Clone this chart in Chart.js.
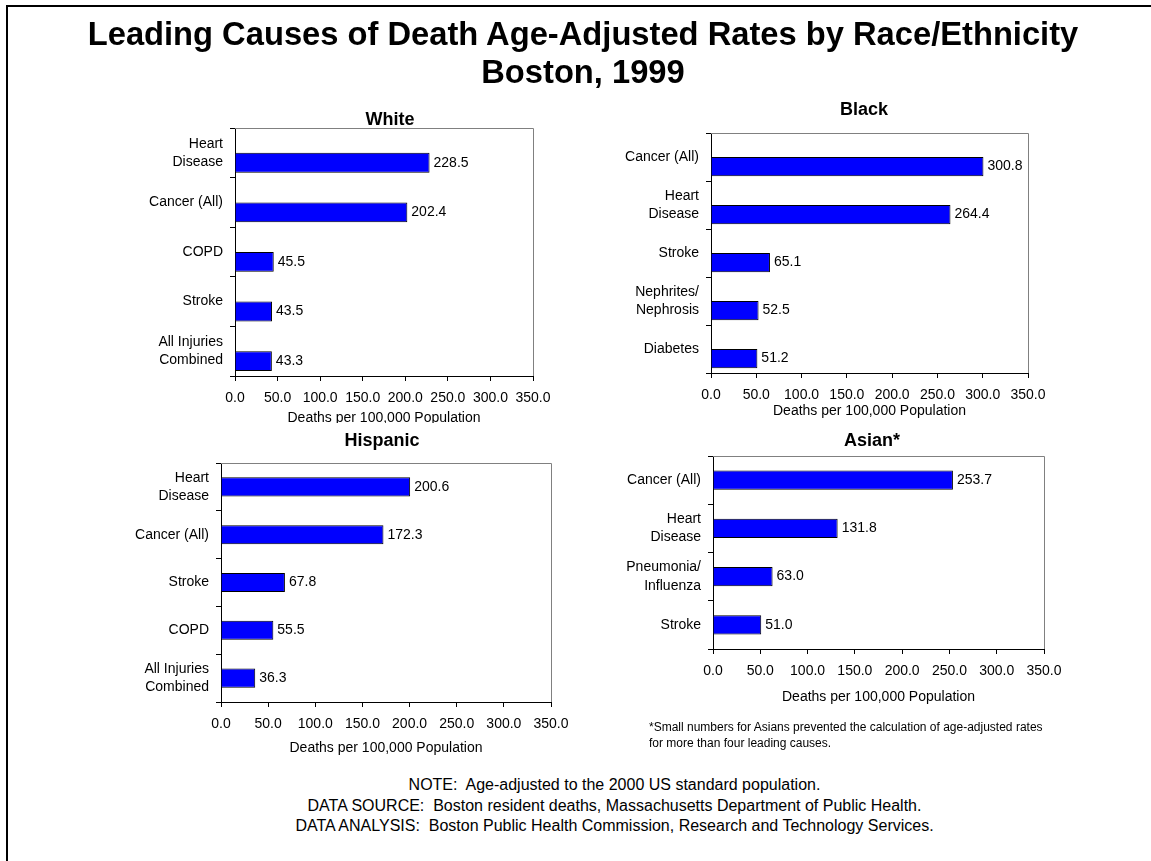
<!DOCTYPE html>
<html>
<head>
<meta charset="utf-8">
<script src="https://cdn.jsdelivr.net/npm/chart.js@4.4.1/dist/chart.umd.min.js"></script>
<style>
  html, body { margin: 0; padding: 0; background: #fff; }
  body { width: 1151px; height: 861px; position: relative; overflow: hidden;
         font-family: Arial, "Liberation Sans", sans-serif; color: #000; }
  .frame { position: absolute; left: 6px; top: 5px; width: 2000px; height: 2000px;
           border-left: 2px solid #000; border-top: 2px solid #000; }
  canvas { position: absolute; }
  .txt { position: absolute; text-align: center; white-space: nowrap; }
  .panel-title { font-size: 18px; font-weight: bold; line-height: 18px; width: 400px; }
</style>
</head>
<body>
<div class="frame"></div>

<canvas id="white" width="438" height="339"></canvas>
<canvas id="black" width="457" height="327"></canvas>
<canvas id="hispanic" width="470" height="334" style="background:#fff"></canvas>
<canvas id="asian" width="471" height="290"></canvas>

<div class="txt" style="left:0; width:1166px; top:15px; font-size:32.7px; font-weight:bold; line-height:37.5px;">
  Leading Causes of Death Age-Adjusted Rates by Race/Ethnicity<br>Boston, 1999
</div>

<div class="txt panel-title" style="left:190px; top:109.5px;">White</div>
<div class="txt panel-title" style="left:664px; top:100px;">Black</div>
<div class="txt panel-title" style="left:182px; top:431px;">Hispanic</div>
<div class="txt panel-title" style="left:672px; top:431px;">Asian*</div>

<div class="txt" style="left:649px; top:719px; font-size:12px; line-height:16px; text-align:left;">
  *Small numbers for Asians prevented the calculation of age-adjusted rates<br>for more than four leading causes.
</div>

<div class="txt" style="left:0; width:1229px; top:775px; font-size:16px; line-height:20.5px;">
  NOTE:&nbsp; Age-adjusted to the 2000 US standard population.<br>
  DATA SOURCE:&nbsp; Boston resident deaths, Massachusetts Department of Public Health.<br>
  DATA ANALYSIS:&nbsp; Boston Public Health Commission, Research and Technology Services.
</div>

<script>
// --- data ---
const whiteCauses = [['Heart', 'Disease'], 'Cancer (All)', 'COPD', 'Stroke', ['All Injuries', 'Combined']];
const whiteRates = [228.5, 202.4, 45.5, 43.5, 43.3];

const blackCauses = ['Cancer (All)', ['Heart', 'Disease'], 'Stroke', ['Nephrites/', 'Nephrosis'], 'Diabetes'];
const blackRates = [300.8, 264.4, 65.1, 52.5, 51.2];

const hispanicCauses = [['Heart', 'Disease'], 'Cancer (All)', 'Stroke', 'COPD', ['All Injuries', 'Combined']];
const hispanicRates = [200.6, 172.3, 67.8, 55.5, 36.3];

const asianCauses = ['Cancer (All)', ['Heart', 'Disease'], ['Pneumonia/', 'Influenza'], 'Stroke'];
const asianRates = [253.7, 131.8, 63.0, 51.0];

const xTickValues = [0, 50, 100, 150, 200, 250, 300, 350];
const xAxisTitle = 'Deaths per 100,000 Population';

Chart.defaults.font.family = 'Arial, "Liberation Sans", sans-serif';
Chart.defaults.color = '#000';

// value printed just past the end of each bar
const valueLabels = {
    id: 'valueLabels',
    afterDatasetsDraw(chart) {
        const ctx = chart.ctx;
        ctx.save();
        ctx.font = '14px Arial, "Liberation Sans", sans-serif';
        ctx.fillStyle = '#000';
        ctx.textBaseline = 'middle';
        ctx.textAlign = 'left';
        chart.data.datasets.forEach((ds, di) => {
            chart.getDatasetMeta(di).data.forEach((bar, i) => {
                const v = ds.data[i];
                if (v === null || v === undefined) return;
                ctx.fillText(v.toFixed(1), bar.x + 4, bar.y);
            });
        });
        ctx.restore();
    }
};

// grey top and right edge of the plot area
const plotFrame = {
    id: 'plotFrame',
    afterDatasetsDraw(chart) {
        const { ctx, chartArea: a } = chart;
        const top = Math.round(a.top) + 0.5;
        const right = Math.round(a.right) + 0.5;
        ctx.save();
        ctx.strokeStyle = '#808080';
        ctx.lineWidth = 1;
        ctx.beginPath();
        ctx.moveTo(Math.round(a.left), top);
        ctx.lineTo(right, top);
        ctx.lineTo(right, Math.round(a.bottom));
        ctx.stroke();
        ctx.restore();
    }
};

function makeChart(id, causes, rates, shifted, plotLeft, plotTop, axisHeight) {
    const canvas = document.getElementById(id);
    canvas.style.left = (plotLeft - 100) + 'px';
    canvas.style.top = (plotTop - 40) + 'px';

    const bars = {
        data: rates,
        backgroundColor: '#0000ff',
        borderColor: '#000',
        borderWidth: 1,
        categoryPercentage: 0.8,
        barPercentage: shifted ? 1 : 0.5
    };
    // Excel drew the White/Black bars in the lower half of each slot
    const datasets = shifted
        ? [{ data: rates.map(() => null), categoryPercentage: 0.8, barPercentage: 1 }, bars]
        : [bars];

    return new Chart(canvas, {
        type: 'bar',
        data: { labels: causes, datasets: datasets },
        options: {
            indexAxis: 'y',
            responsive: false,
            animation: false,
            layout: { padding: { left: 0, top: 40, right: 40, bottom: 0 } },
            plugins: {
                legend: { display: false },
                tooltip: { enabled: false },
                title: { display: false }
            },
            scales: {
                x: {
                    min: 0,
                    max: 350,
                    afterBuildTicks: s => { s.ticks = xTickValues.map(v => ({ value: v })); },
                    ticks: {
                        font: { size: 14 },
                        color: '#000',
                        padding: 9,
                        maxRotation: 0,
                        autoSkip: false,
                        callback: v => Number(v).toFixed(1)
                    },
                    grid: { drawOnChartArea: false, tickLength: 5, color: '#000' },
                    border: { color: '#000', width: 1 },
                    title: {
                        display: true,
                        text: xAxisTitle,
                        font: { size: 14 },
                        color: '#000',
                        padding: 0
                    },
                    afterFit: s => { s.height = axisHeight; }
                },
                y: {
                    grid: { offset: true, drawOnChartArea: false, tickLength: 5, color: '#000' },
                    border: { color: '#000', width: 1 },
                    ticks: {
                        font: { size: 14, lineHeight: 1.29 },
                        color: '#000',
                        padding: 7,
                        autoSkip: false
                    },
                    afterFit: s => { s.width = 100; }
                }
            }
        },
        plugins: [plotFrame, valueLabels]
    });
}

makeChart('white', whiteCauses, whiteRates, true, 235, 128, 51);
makeChart('black', blackCauses, blackRates, true, 711, 133, 47);
makeChart('hispanic', hispanicCauses, hispanicRates, false, 221, 463, 55);
makeChart('asian', asianCauses, asianRates, false, 713, 456, 57);
</script>
</body>
</html>
